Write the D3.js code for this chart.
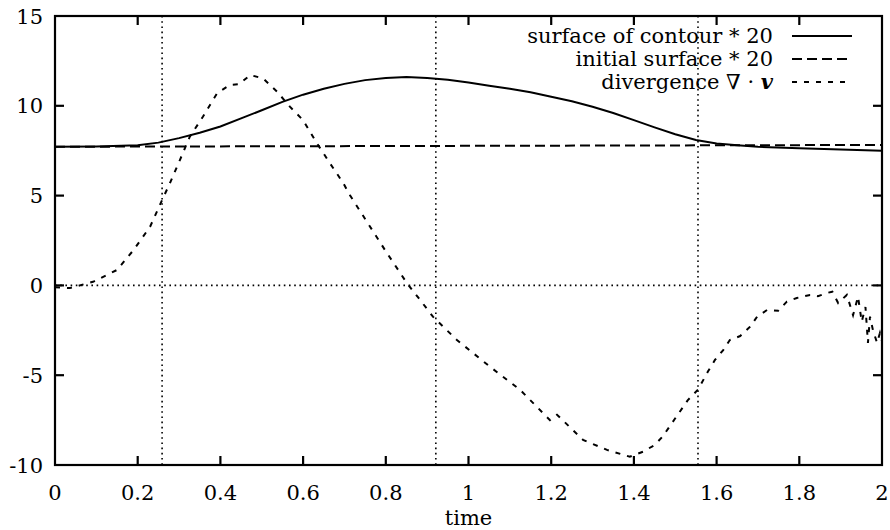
<!DOCTYPE html>
<html>
<head>
<meta charset="utf-8">
<script src="https://cdn.jsdelivr.net/npm/d3@7"></script>
<style>
  body { margin: 0; background: #fff; }
</style>
</head>
<body>
<div id="chartArea"></div>
<script>
    // Data

    const xTicks = [0, 0.2, 0.4, 0.6, 0.8, 1, 1.2, 1.4, 1.6, 1.8, 2];
    const yTicks = [-10, -5, 0, 5, 10, 15];
    const markerTimes = [0.259, 0.921, 1.555];

    const surfaceTime = [0, 0.1, 0.2, 0.25, 0.3, 0.35, 0.4, 0.45, 0.5, 0.55, 0.6, 0.65, 0.7, 0.75, 0.8, 0.85,
        0.9, 0.95, 1.0, 1.05, 1.1, 1.15, 1.2, 1.25, 1.3, 1.35, 1.4, 1.45, 1.5, 1.55, 1.6, 1.65, 1.7, 1.8, 1.9, 2.0];
    const surfaceValue = [7.72, 7.74, 7.8, 7.95, 8.2, 8.5, 8.85, 9.3, 9.75, 10.22, 10.62, 10.95, 11.22, 11.43, 11.55, 11.6,
        11.55, 11.45, 11.3, 11.12, 10.95, 10.75, 10.5, 10.25, 9.95, 9.6, 9.2, 8.8, 8.42, 8.1, 7.9, 7.8, 7.72, 7.63, 7.57, 7.5];

    const initialTime = [0, 2];
    const initialValue = [7.72, 7.82];

    const divergenceTime = [0, 0.036, 0.092, 0.15, 0.19, 0.23, 0.259, 0.278, 0.302, 0.326, 0.358, 0.392, 0.423, 0.445,
        0.472, 0.503, 0.537, 0.568, 0.6, 0.633, 0.665, 0.697, 0.713, 0.75, 0.798, 0.851, 0.883, 0.914, 0.972, 1.052,
        1.125, 1.197, 1.214, 1.277, 1.335, 1.39, 1.422, 1.45, 1.47, 1.5, 1.53, 1.555, 1.579, 1.596, 1.616, 1.632, 1.657,
        1.681, 1.698, 1.722, 1.749, 1.77, 1.794, 1.826, 1.845, 1.867, 1.88, 1.894, 1.915, 1.93, 1.942, 1.951, 1.96,
        1.966, 1.971, 1.978, 1.988, 1.995, 2.0];
    const divergenceValue = [-0.1, -0.15, 0.2, 0.86, 1.97, 3.27, 4.75, 5.7, 6.98, 8.28, 9.4, 10.7, 11.16, 11.2,
        11.71, 11.53, 10.79, 9.95, 9.2, 7.93, 6.8, 5.7, 5.03, 3.7, 1.97, 0.13, -0.81, -1.74, -3.04, -4.53,
        -5.82, -7.5, -7.2, -8.6, -9.16, -9.54, -9.26, -8.89, -8.4, -7.4, -6.4, -5.8, -4.8, -4.15, -3.6, -3.04, -2.82,
        -2.3, -1.74, -1.37, -1.41, -0.9, -0.7, -0.53, -0.6, -0.42, -0.35, -0.98, -0.53, -1.65, -0.63, -2.02, -1.2,
        -3.2, -1.74, -2.48, -3.2, -2.65, -3.1];

    const legendLabels = ["surface of contour * 20", "initial surface * 20", "divergence "];

    // Dimensions

    const width = 890,
        height = 530,
        margin = {
            top: 16,
            left: 55,
            bottom: 65,
            right: 8
        };

    const fontSize = 21;
    const serif = "DejaVu Serif";

    const x = d3.scaleLinear().domain([0, 2]).range([margin.left, width - margin.right]);
    const y = d3.scaleLinear().domain([-10, 15]).range([height - margin.bottom, margin.top]);

    const svg = d3.select("#chartArea")
        .append("svg")
        .attr("width", width)
        .attr("height", height)
        .style("font-family", serif);

    svg.append("clipPath")
        .attr("id", "clip")
        .append("rect")
        .attr("x", margin.left)
        .attr("y", margin.top)
        .attr("width", width - margin.left - margin.right)
        .attr("height", height - margin.top - margin.bottom);

    // Dotted markers

    const grid = svg.append("g")
        .attr("stroke", "#000")
        .attr("stroke-width", 1.6)
        .attr("stroke-dasharray", "1.6,3.6");

    grid.selectAll("line.v")
        .data(markerTimes)
        .join("line")
        .attr("class", "v")
        .attr("x1", d => x(d))
        .attr("x2", d => x(d))
        .attr("y1", y(15))
        .attr("y2", y(-10));

    grid.append("line")
        .attr("x1", x(0))
        .attr("x2", x(2))
        .attr("y1", y(0))
        .attr("y2", y(0));

    // Curves

    const line = d3.line().x(d => x(d[0])).y(d => y(d[1]));
    const zip = (a, b) => a.map((t, i) => [t, b[i]]);

    const series = [
        { pts: zip(surfaceTime, surfaceValue), dash: null },
        { pts: zip(initialTime, initialValue), dash: "10,5" },
        { pts: zip(divergenceTime, divergenceValue), dash: "5,7" }
    ];

    svg.append("g")
        .attr("clip-path", "url(#clip)")
        .selectAll("path")
        .data(series)
        .join("path")
        .attr("d", d => line(d.pts))
        .attr("fill", "none")
        .attr("stroke", "#000")
        .attr("stroke-width", 2)
        .attr("stroke-dasharray", d => d.dash);

    // Frame and ticks

    const tickLen = 9;
    const axes = svg.append("g").attr("stroke", "#000").attr("stroke-width", 2.2);

    axes.append("rect")
        .attr("x", x(0))
        .attr("y", y(15))
        .attr("width", x(2) - x(0))
        .attr("height", y(-10) - y(15))
        .attr("fill", "none");

    const innerX = xTicks.slice(1, -1);
    const innerY = yTicks.slice(1, -1);

    axes.selectAll("line.xb").data(innerX).join("line").attr("class", "xb")
        .attr("x1", d => x(d)).attr("x2", d => x(d))
        .attr("y1", y(-10)).attr("y2", y(-10) - tickLen);
    axes.selectAll("line.xt").data(innerX).join("line").attr("class", "xt")
        .attr("x1", d => x(d)).attr("x2", d => x(d))
        .attr("y1", y(15)).attr("y2", y(15) + tickLen);
    axes.selectAll("line.yl").data(innerY).join("line").attr("class", "yl")
        .attr("x1", x(0)).attr("x2", x(0) + tickLen)
        .attr("y1", d => y(d)).attr("y2", d => y(d));
    axes.selectAll("line.yr").data(innerY).join("line").attr("class", "yr")
        .attr("x1", x(2)).attr("x2", x(2) - tickLen)
        .attr("y1", d => y(d)).attr("y2", d => y(d));

    // Tick labels

    svg.append("g")
        .selectAll("text")
        .data(xTicks)
        .join("text")
        .attr("x", d => x(d))
        .attr("y", y(-10) + 35)
        .attr("text-anchor", "middle")
        .attr("font-size", fontSize)
        .text(d => d);

    svg.append("g")
        .selectAll("text")
        .data(yTicks)
        .join("text")
        .attr("x", x(0) - 12)
        .attr("y", d => y(d))
        .attr("dy", "0.36em")
        .attr("text-anchor", "end")
        .attr("font-size", fontSize)
        .text(d => d);

    svg.append("text")
        .attr("x", (x(0) + x(2)) / 2)
        .attr("y", height - 5)
        .attr("text-anchor", "middle")
        .attr("font-size", fontSize)
        .text("time");

    // Legend

    const legend = svg.append("g")
        .selectAll("g")
        .data(series)
        .join("g")
        .attr("transform", (d, i) => `translate(0, ${43 + i * 23})`);

    legend.append("text")
        .attr("x", 773)
        .attr("text-anchor", "end")
        .attr("font-size", fontSize)
        .each(function (d, i) {
            const t = d3.select(this);
            t.append("tspan").text(legendLabels[i]);
            if (i === 2) {
                t.append("tspan").text("\u2207 \u00b7 ");
                t.append("tspan").attr("font-weight", "bold").attr("font-style", "italic").text("v");
            }
        });

    legend.append("line")
        .attr("x1", 792)
        .attr("x2", 852)
        .attr("y1", -7)
        .attr("y2", -7)
        .attr("stroke", "#000")
        .attr("stroke-width", 2)
        .attr("stroke-dasharray", d => d.dash);
</script>
</body>
</html>
